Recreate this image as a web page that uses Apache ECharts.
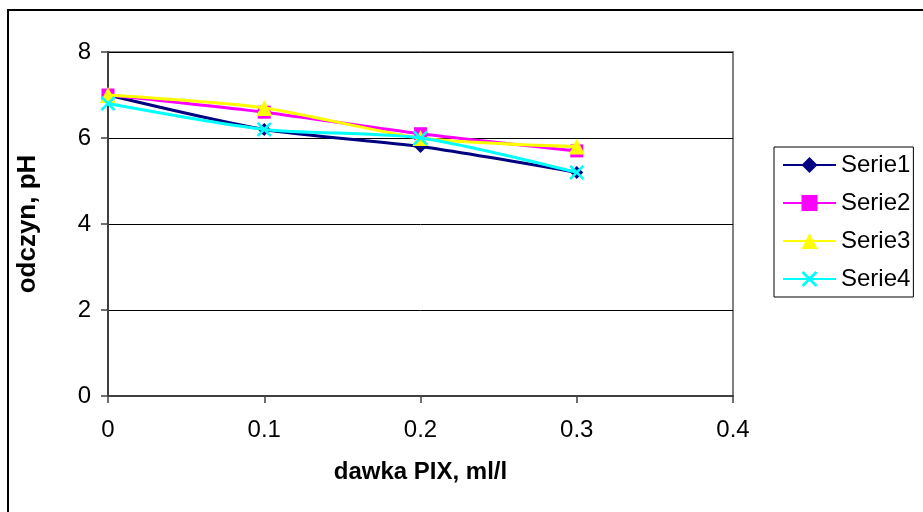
<!DOCTYPE html>
<html>
<head>
<meta charset="utf-8">
<script src="https://cdn.jsdelivr.net/npm/echarts@6/dist/echarts.min.js"></script>
<style>
  html, body { margin: 0; padding: 0; background: #fff; }
  #chart { width: 923px; height: 512px; }
</style>
</head>
<body>
<div id="chart"></div>
<script>
// Dose of PIX (ml/l) and the resulting pH for four test series
const dawka = [0, 0.1, 0.2, 0.3];
const serie1 = [7.0, 6.2, 5.8, 5.2];
const serie2 = [7.0, 6.6, 6.1, 5.7];
const serie3 = [7.0, 6.7, 6.0, 5.8];
const serie4 = [6.8, 6.2, 6.0, 5.2];
const seriesNames = ['Serie1', 'Serie2', 'Serie3', 'Serie4'];
const seriesColors = ['#000080', '#ff00ff', '#ffff00', '#00ffff'];

const FONT = '"Liberation Sans", Arial, sans-serif';
const crossSymbol = 'path://M0,1.2L1.2,0L5,3.8L8.8,0L10,1.2L6.2,5L10,8.8L8.8,10L5,6.2L1.2,10L0,8.8L3.8,5Z';
const symbols = ['diamond', 'rect', 'triangle', crossSymbol];
const symbolSizes = [13, 13, 16, 15];
const values = [serie1, serie2, serie3, serie4];

const chart = echarts.init(document.getElementById('chart'), null, { renderer: 'canvas' });

chart.setOption({
  backgroundColor: '#ffffff',
  animation: false,
  graphic: [{
    type: 'rect',
    shape: { x: 8, y: 10, width: 1000, height: 1000 },
    style: { fill: 'none', stroke: '#000', lineWidth: 2 },
    z: -10
  }],
  grid: {
    left: 108, top: 52, right: 190, bottom: 116,
    show: true, borderColor: '#808080', borderWidth: 2, backgroundColor: '#ffffff'
  },
  legend: {
    orient: 'vertical',
    left: 774, top: 147,
    backgroundColor: '#fff',
    borderColor: '#000', borderWidth: 1,
    padding: [4, 3, 4, 8],
    itemWidth: 53, itemHeight: 20, itemGap: 10,
    itemStyle: { borderWidth: 0 },
    textStyle: { fontFamily: FONT, fontSize: 24, color: '#000', lineHeight: 28 },
    data: seriesNames
  },
  xAxis: {
    type: 'value', min: 0, max: 0.4, interval: 0.1,
    name: 'dawka PIX, ml/l', nameLocation: 'middle', nameGap: 64,
    nameTextStyle: { fontFamily: FONT, fontSize: 24, fontWeight: 'bold', color: '#000' },
    axisLine: { show: true, lineStyle: { color: '#404040', width: 2 } },
    axisTick: { show: true, length: 7, lineStyle: { color: '#404040', width: 1.5 } },
    axisLabel: { margin: 22, fontFamily: FONT, fontSize: 24, color: '#000' },
    splitLine: { show: false }
  },
  yAxis: {
    type: 'value', min: 0, max: 8, interval: 2,
    name: 'odczyn, pH', nameLocation: 'middle', nameGap: 67,
    nameTextStyle: { fontFamily: FONT, fontSize: 26, fontWeight: 'bold', color: '#000' },
    axisLine: { show: true, lineStyle: { color: '#404040', width: 2 } },
    axisTick: { show: true, length: 7, lineStyle: { color: '#404040', width: 1.5 } },
    axisLabel: { margin: 17, fontFamily: FONT, fontSize: 24, color: '#000' },
    splitLine: { show: true, lineStyle: { color: '#000', width: 1 } }
  },
  series: seriesNames.map((name, i) => ({
    name: name,
    type: 'line',
    smooth: 0.25,
    data: dawka.map((x, j) => [x, values[i][j]]),
    symbol: symbols[i],
    symbolSize: symbolSizes[i],
    showAllSymbol: true,
    color: seriesColors[i],
    lineStyle: { color: seriesColors[i], width: 3 },
    itemStyle: { color: seriesColors[i], borderWidth: 0 },
    z: 2 + i
  }))
});
</script>
</body>
</html>
